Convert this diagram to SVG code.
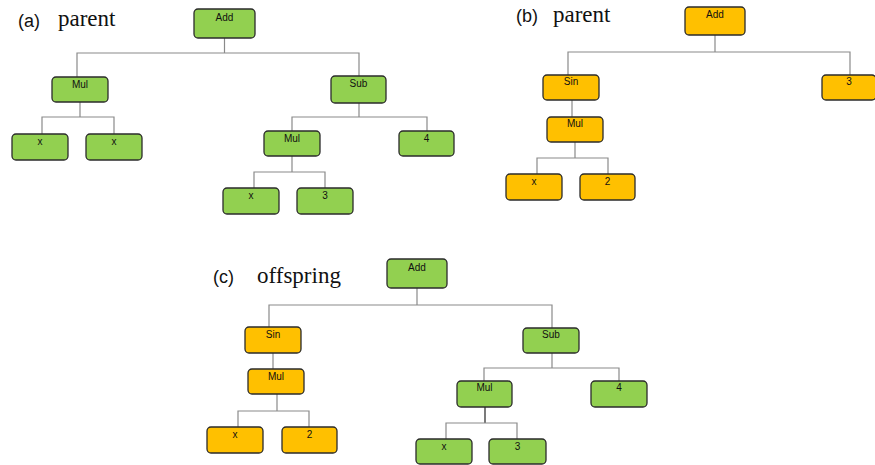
<svg xmlns="http://www.w3.org/2000/svg" width="875" height="465" viewBox="0 0 875 465">
<style>
.g{fill:#92D050;stroke:#2b2b2b;stroke-width:1.3}
.o{fill:#FFC000;stroke:#2b2b2b;stroke-width:1.3}
.t{font-family:"Liberation Sans",Arial,sans-serif;font-size:10px;fill:#111;text-anchor:middle}
.lab{font-family:"Liberation Sans",Arial,sans-serif;font-size:18px;fill:#111}
.cap{font-family:"Liberation Serif","Times New Roman",serif;font-size:23px;fill:#111}
.c{fill:none;stroke:#8a8a8a;stroke-width:1.2}
</style>
<rect width="875" height="465" fill="#fff"/>
<text class="lab" x="18" y="27">(a)</text><text class="cap" x="58" y="26">parent</text>
<text class="lab" x="516" y="22">(b)</text><text class="cap" x="553" y="22">parent</text>
<text class="lab" x="213" y="283">(c)</text><text class="cap" x="257" y="283">offspring</text>
<g id="connectors">
<path class="c" d="M224.5 38V53M77 77V53H359V76"/>
<path class="c" d="M80 102V117M42 134V117H114V134"/>
<path class="c" d="M359 103V117M292 131V117H427V131"/>
<path class="c" d="M292 156V172M254 188V172H325V188"/>
<path class="c" d="M715 35V52M568 75V52H850V75"/>
<path class="c" d="M572 100V117"/>
<path class="c" d="M575 142V158M537 174V158H608V174"/>
<path class="c" d="M417 288V305M269 327V305H552V328"/>
<path class="c" d="M273 353V369"/>
<path class="c" d="M277 394V411M238 427V411H309V427"/>
<path class="c" d="M552 353V368M484 381V368H619V381"/>
<path class="c" d="M485 407V423" style="stroke:#222"/>
<path class="c" d="M446 439V423H517V439"/>
</g>
<g id="a-add"><rect class="g" x="194" y="9" width="61" height="29" rx="4"/><text class="t" x="224.5" y="21">Add</text></g>
<g id="a-mul1"><rect class="g" x="52" y="77" width="56" height="25" rx="4"/><text class="t" x="80" y="88">Mul</text></g>
<g id="a-x1"><rect class="g" x="12" y="134" width="56" height="26" rx="4"/><text class="t" x="40" y="145">x</text></g>
<g id="a-x2"><rect class="g" x="86" y="134" width="56" height="26" rx="4"/><text class="t" x="114" y="145">x</text></g>
<g id="a-sub"><rect class="g" x="331" y="76" width="55" height="27" rx="4"/><text class="t" x="358.5" y="87">Sub</text></g>
<g id="a-mul2"><rect class="g" x="264" y="131" width="56" height="25" rx="4"/><text class="t" x="292" y="142">Mul</text></g>
<g id="a-4"><rect class="g" x="399" y="131" width="55" height="25" rx="4"/><text class="t" x="426.5" y="142">4</text></g>
<g id="a-x3"><rect class="g" x="223" y="188" width="56" height="26" rx="4"/><text class="t" x="251" y="199">x</text></g>
<g id="a-3"><rect class="g" x="297" y="188" width="56" height="26" rx="4"/><text class="t" x="325" y="199">3</text></g>
<g id="b-add"><rect class="o" x="685" y="7" width="60" height="28" rx="4"/><text class="t" x="715" y="18">Add</text></g>
<g id="b-sin"><rect class="o" x="543" y="75" width="56" height="25" rx="4"/><text class="t" x="571" y="85">Sin</text></g>
<g id="b-3"><rect class="o" x="822" y="75" width="54" height="25" rx="4"/><text class="t" x="849" y="85">3</text></g>
<g id="b-mul"><rect class="o" x="547" y="117" width="56" height="25" rx="4"/><text class="t" x="575" y="127">Mul</text></g>
<g id="b-x"><rect class="o" x="506" y="174" width="56" height="26" rx="4"/><text class="t" x="534" y="185">x</text></g>
<g id="b-2"><rect class="o" x="580" y="174" width="55" height="26" rx="4"/><text class="t" x="607.5" y="185">2</text></g>
<g id="c-add"><rect class="g" x="387" y="259" width="60" height="29" rx="4"/><text class="t" x="417" y="271">Add</text></g>
<g id="c-sin"><rect class="o" x="245" y="327" width="56" height="26" rx="4"/><text class="t" x="273" y="338">Sin</text></g>
<g id="c-mul1"><rect class="o" x="248" y="369" width="56" height="25" rx="4"/><text class="t" x="276" y="380">Mul</text></g>
<g id="c-x1"><rect class="o" x="207" y="427" width="56" height="26" rx="4"/><text class="t" x="235" y="438">x</text></g>
<g id="c-2"><rect class="o" x="282" y="427" width="55" height="26" rx="4"/><text class="t" x="309.5" y="438">2</text></g>
<g id="c-sub"><rect class="g" x="523" y="328" width="56" height="25" rx="4"/><text class="t" x="551" y="338">Sub</text></g>
<g id="c-mul2"><rect class="g" x="457" y="381" width="55" height="26" rx="4"/><text class="t" x="484.5" y="391">Mul</text></g>
<g id="c-4"><rect class="g" x="591" y="381" width="56" height="26" rx="4"/><text class="t" x="619" y="391">4</text></g>
<g id="c-x2"><rect class="g" x="416" y="439" width="56" height="25" rx="4"/><text class="t" x="444" y="450">x</text></g>
<g id="c-3"><rect class="g" x="489" y="439" width="57" height="25" rx="4"/><text class="t" x="517.5" y="450">3</text></g>
</svg>
